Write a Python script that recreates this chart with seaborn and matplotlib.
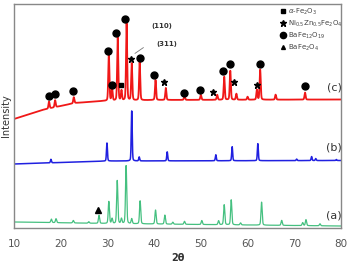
import numpy as np
import pandas as pd
import matplotlib
matplotlib.use("Agg")
import matplotlib.pyplot as plt
from matplotlib.lines import Line2D
import seaborn as sns

# ---------------- data ----------------
xticks = [10, 20, 30, 40, 50, 60, 70, 80]

# (a) green pattern: peak positions (2theta) and heights
a_pos = [18.0, 19.0, 22.7, 26.0, 28.2, 30.3, 31.0, 32.1, 33.0, 34.0, 35.2, 37.0,
         40.3, 42.3, 44.0, 46.5, 50.2, 53.8, 55.0, 56.5, 58.5, 63.0, 67.3, 71.8, 72.5, 75.5]
a_h = [3.5, 4.0, 2.5, 1.5, 8.0, 22.0, 5.0, 43.0, 5.0, 58.0, 5.0, 23.0,
       14.0, 9.0, 2.0, 3.0, 4.0, 4.0, 20.0, 25.0, 2.0, 23.0, 5.0, 3.0, 6.0, 2.0]
a_base_x = [10, 30, 80]
a_base_y = [6.0, 4.5, 2.0]

# (b) blue pattern
b_pos = [17.9, 29.9, 35.2, 36.8, 42.8, 53.2, 56.7, 62.2, 70.5, 73.7, 74.6, 79.0]
b_h = [3.5, 18.0, 50.0, 4.0, 9.0, 6.0, 14.0, 17.0, 1.5, 4.0, 2.0, 1.0]
b_base_x = [10, 30, 80]
b_base_y = [64.0, 67.0, 67.5]

# (c) red pattern
c_pos = [17.5, 18.8, 22.8, 30.3, 31.0, 32.2, 33.0, 34.1, 35.2, 36.9, 40.3, 42.5,
         46.5, 50.0, 53.5, 55.0, 56.3, 57.6, 60.0, 62.0, 62.7, 66.0, 72.3]
c_h = [7.0, 7.0, 6.0, 47.0, 12.0, 63.0, 10.0, 77.0, 37.0, 38.0, 20.0, 12.0,
       4.0, 5.0, 5.0, 23.0, 29.0, 6.0, 3.0, 10.0, 30.0, 5.0, 7.0]
c_base_x = [10, 16, 23, 29, 40, 80]
c_base_y = [109.0, 118.0, 125.0, 127.0, 128.0, 128.5]

# phase markers on pattern (c)
circ_x = [17.5, 18.8, 22.6, 30.1, 31.0, 31.8, 33.8, 37.0, 40.0, 46.4, 49.8, 54.7, 56.2, 62.7, 72.3]
circ_y = [132, 134, 137, 177, 143, 195, 209, 170, 153, 135, 138, 157, 164, 164, 142]
sq_x = [32.9]
sq_y = [143]
star_x = [35.0, 42.1, 52.6, 57.1, 62.0]
star_y = [169, 146, 136, 146, 143]
tri_x = [28.0]
tri_y = [18]

legend_labels = [r"$\alpha$-Fe$_2$O$_3$", r"Ni$_{0.5}$Zn$_{0.5}$Fe$_2$O$_4$",
                 r"BaFe$_{12}$O$_{19}$", r"BaFe$_2$O$_4$"]


def pattern(x, pos, h, bx, by, w):
    y = np.interp(x, bx, by)
    for p, hh in zip(pos, h):
        d = (x - p) / w
        y = y + hh * (0.75 * np.exp(-np.log(2) * d ** 2) + 0.25 / (1.0 + d ** 2))
    return y


grid = np.arange(10, 80.001, 0.02)
df = pd.concat([
    pd.DataFrame({"x": grid, "y": pattern(grid, a_pos, a_h, a_base_x, a_base_y, 0.15), "s": "a"}),
    pd.DataFrame({"x": grid, "y": pattern(grid, b_pos, b_h, b_base_x, b_base_y, 0.12), "s": "b"}),
    pd.DataFrame({"x": grid, "y": pattern(grid, c_pos, c_h, c_base_x, c_base_y, 0.14), "s": "c"}),
])

sns.set_theme(style="white")
plt.rcParams["font.family"] = ["DejaVu Sans"]

fig = plt.figure(figsize=(3.48, 2.64), dpi=100)
ax = fig.add_axes([14 / 348, 1 - 228 / 264, 327 / 348, 224 / 264])

colors = {"a": "#45c080", "b": "#2020e0", "c": "#f01818"}
widths = {"a": 0.9, "b": 1.1, "c": 1.3}
for s in ["a", "b", "c"]:
    sns.lineplot(data=df[df.s == s], x="x", y="y", color=colors[s], lw=widths[s], ax=ax,
                 estimator=None, sort=False)

ax.plot(circ_x, circ_y, "o", color="black", ms=5, ls="none")
ax.plot(sq_x, sq_y, "s", color="black", ms=3.5, ls="none")
ax.plot(star_x, star_y, "*", color="black", ms=5, ls="none")
ax.plot(tri_x, tri_y, "^", color="black", ms=4, ls="none")

ax.set_xlim(10, 80)
ax.set_ylim(0, 224)
ax.set_xticks(xticks)
ax.set_yticks([])
ax.tick_params(axis="x", direction="in", length=2, width=0.6, colors="#888888",
               labelcolor="#555555", labelsize=7.5, pad=8)
for sp in ax.spines.values():
    sp.set_color("#888888")
    sp.set_linewidth(1.0)

ax.set_xlabel("2θ", fontsize=7, color="#333333", labelpad=3, fontweight="bold")
ax.set_ylabel("Intensity", fontsize=7, color="#333333", labelpad=2)

# curve labels
ax.text(78.5, 141, "(c)", fontsize=8, color="#333333", ha="center", va="center")
ax.text(78.5, 80, "(b)", fontsize=8, color="#333333", ha="center", va="center")
ax.text(78.5, 13, "(a)", fontsize=8, color="#333333", ha="center", va="center")

# (110)/(311) annotation
ax.text(41.6, 202, "(110)", fontsize=5, color="#333333", ha="center", va="center", fontweight="bold")
ax.text(42.7, 184, "(311)", fontsize=5, color="#333333", ha="center", va="center", fontweight="bold")
ax.annotate("", xy=(35.4, 173), xytext=(38.2, 182),
            arrowprops=dict(arrowstyle="-", color="#777777", lw=0.6))

# legend
handles = [
    Line2D([], [], marker="s", color="black", ls="none", ms=3.5),
    Line2D([], [], marker="*", color="black", ls="none", ms=4.5),
    Line2D([], [], marker="o", color="black", ls="none", ms=4.5),
    Line2D([], [], marker="^", color="black", ls="none", ms=2.8),
]
leg = ax.legend(handles, legend_labels, loc="upper left", bbox_to_anchor=(0.81, 1.0),
                frameon=False, fontsize=5, handlelength=0.5, handletextpad=0.35,
                labelspacing=0.25, borderaxespad=0.3, borderpad=0.1)
for t in leg.get_texts():
    t.set_color("#444444")

fig.savefig("out.png", dpi=100)
